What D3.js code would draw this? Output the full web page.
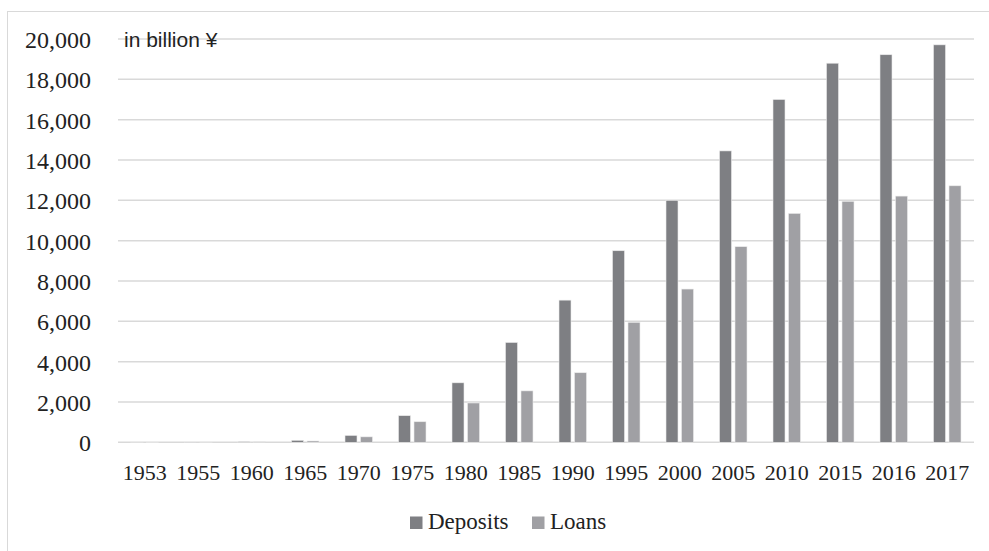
<!DOCTYPE html>
<html><head><meta charset="utf-8">
<script src="https://cdn.jsdelivr.net/npm/d3@7"></script>
<style>body{margin:0;background:#fff}svg{display:block}</style>
</head><body>
<svg id="c" width="989" height="551"></svg>
<script>
const years = ["1953","1955","1960","1965","1970","1975","1980","1985","1990","1995","2000","2005","2010","2015","2016","2017"];
const deposits = [5,10,30,100,340,1320,2950,4950,7050,9500,12000,14450,17000,18800,19220,19710];
const loans = [3,6,20,65,270,1020,1950,2550,3450,5950,7600,9700,11350,11950,12210,12720];
const yTicks = [0,2000,4000,6000,8000,10000,12000,14000,16000,18000,20000];
const seriesNames = ["Deposits","Loans"];
const colors = ["#7e7f83","#a0a0a4"];

const svg = d3.select("#c");
const M = {left:118, right:974, top:39, bottom:442.3};

// outer frame
svg.append("rect").attr("x",7.5).attr("y",11.5).attr("width",1000).attr("height",600)
  .attr("fill","none").attr("stroke","#d9d9d9").attr("stroke-width",1);

const x = d3.scaleBand().domain(years).range([M.left, M.right]);
const y = d3.scaleLinear().domain([0,20000]).range([M.bottom, M.top]);

// gridlines
svg.append("g").selectAll("line").data(yTicks).join("line")
  .attr("x1",M.left).attr("x2",M.right)
  .attr("y1",d=>y(d)).attr("y2",d=>y(d))
  .attr("stroke","#d9d9d9").attr("stroke-width",1.5);

// y axis labels
const yAxis = d3.axisLeft(y).tickValues(yTicks).tickFormat(d3.format(",")).tickSize(0).tickPadding(0);
const ya = svg.append("g").attr("transform","translate(91,0)").call(yAxis);
ya.select(".domain").remove();
ya.selectAll("text").attr("font-family","'Liberation Serif', serif").attr("font-size",24)
  .attr("fill","#222").attr("dy","0.35em");

// x axis labels
const xAxis = d3.axisBottom(x).tickSize(0).tickPadding(0);
const xa = svg.append("g").attr("transform","translate(0,472)").call(xAxis);
xa.select(".domain").remove();
xa.selectAll("text").attr("font-family","'Liberation Serif', serif").attr("font-size",22)
  .attr("fill","#222").attr("dy","0.35em");

// bars
const bw = 12, gap = 3.5;
const x1 = d3.scaleOrdinal().domain(seriesNames).range([-(bw+gap/2), gap/2]);
const data = [deposits, loans];
seriesNames.forEach((s,si)=>{
  svg.append("g").selectAll("rect").data(years).join("rect")
    .attr("x",d=>x(d)+x.bandwidth()/2+x1(s))
    .attr("width",bw)
    .attr("y",(d,i)=>y(data[si][i]))
    .attr("height",(d,i)=>y(0)-y(data[si][i]))
    .attr("fill",colors[si])
    .attr("stroke","#ececec").attr("stroke-width",0.6);
});

// unit label
svg.append("text").attr("x",124).attr("y",47).text("in billion ¥")
  .attr("font-family","'Liberation Sans', Arial, sans-serif").attr("font-size",21).attr("fill","#222");

// legend
const leg = svg.append("g");
const legItems = [{n:"Deposits",sx:410,tx:428},{n:"Loans",sx:532,tx:550}];
legItems.forEach((it,i)=>{
  leg.append("rect").attr("x",it.sx).attr("y",516.5).attr("width",12.5).attr("height",12.5).attr("fill",colors[i]);
  leg.append("text").attr("x",it.tx).attr("y",529).text(it.n)
    .attr("font-family","'Liberation Serif', serif").attr("font-size",23).attr("fill","#222");
});
</script>
</body></html>
